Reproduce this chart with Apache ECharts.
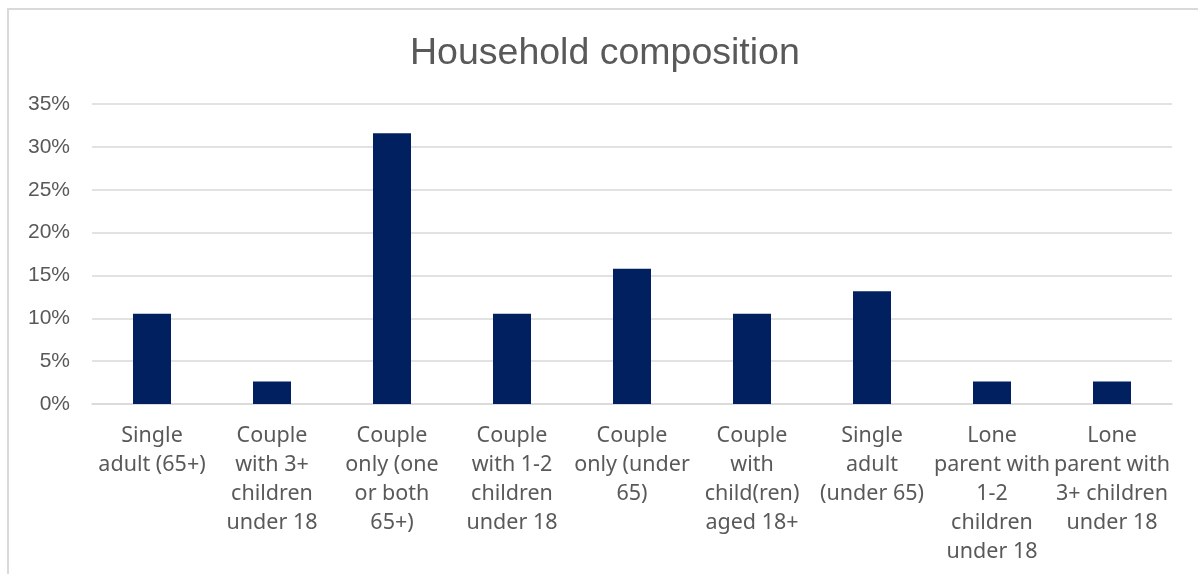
<!DOCTYPE html>
<html>
<head>
<meta charset="utf-8">
<script src="https://cdn.jsdelivr.net/npm/echarts@6/dist/echarts.min.js"></script>
<style>
  html, body { margin: 0; padding: 0; background: #fff; }
  #frame { position: absolute; left: 7px; top: 8px; width: 1200px; height: 580px; border: 2px solid #d9d9d9; box-sizing: border-box; }
  #chart { position: absolute; left: 0; top: 0; width: 1198px; height: 574px; }
</style>
</head>
<body>
<div id="frame"></div>
<div id="chart"></div>
<script>
// Household types (line breaks as shown under each bar)
const categories = [
  'Single\nadult (65+)',
  'Couple\nwith 3+\nchildren\nunder 18',
  'Couple\nonly (one\nor both\n65+)',
  'Couple\nwith 1-2\nchildren\nunder 18',
  'Couple\nonly (under\n65)',
  'Couple\nwith\nchild(ren)\naged 18+',
  'Single\nadult\n(under 65)',
  'Lone\nparent with\n1-2\nchildren\nunder 18',
  'Lone\nparent with\n3+ children\nunder 18'
];
// Share of households, in percent
const shares = [10.53, 2.63, 31.58, 10.53, 15.79, 10.53, 13.16, 2.63, 2.63];
const yTicks = { min: 0, max: 35, interval: 5 };

const chart = echarts.init(document.getElementById('chart'), null, { renderer: 'canvas' });
chart.setOption({
  backgroundColor: 'transparent',
  animation: false,
  title: {
    text: 'Household composition',
    left: 405,
    top: 30,
    textStyle: { fontFamily: 'Liberation Sans', fontSize: 37.5, fontWeight: 'normal', color: '#595959' }
  },
  grid: { left: 92, right: 26, top: 104, bottom: 170, containLabel: false },
  xAxis: {
    type: 'category',
    data: categories,
    axisLine: { show: true, lineStyle: { color: '#d9d9d9', width: 1.5 } },
    axisTick: { show: false },
    axisLabel: {
      interval: 0,
      margin: 17,
      color: '#595959',
      fontFamily: 'Noto Sans',
      fontSize: 21.5,
      lineHeight: 29,
      align: 'center',
      verticalAlign: 'top'
    }
  },
  yAxis: {
    type: 'value',
    min: yTicks.min,
    max: yTicks.max,
    interval: yTicks.interval,
    axisLine: { show: false },
    axisTick: { show: false },
    splitLine: { lineStyle: { color: '#d9d9d9', width: 1.5 } },
    axisLabel: {
      margin: 22,
      color: '#595959',
      fontFamily: 'Liberation Sans',
      fontSize: 21,
      formatter: v => v + '%'
    }
  },
  series: [{
    type: 'bar',
    data: shares,
    barWidth: 38,
    itemStyle: { color: '#002060' }
  }]
});
</script>
</body>
</html>
